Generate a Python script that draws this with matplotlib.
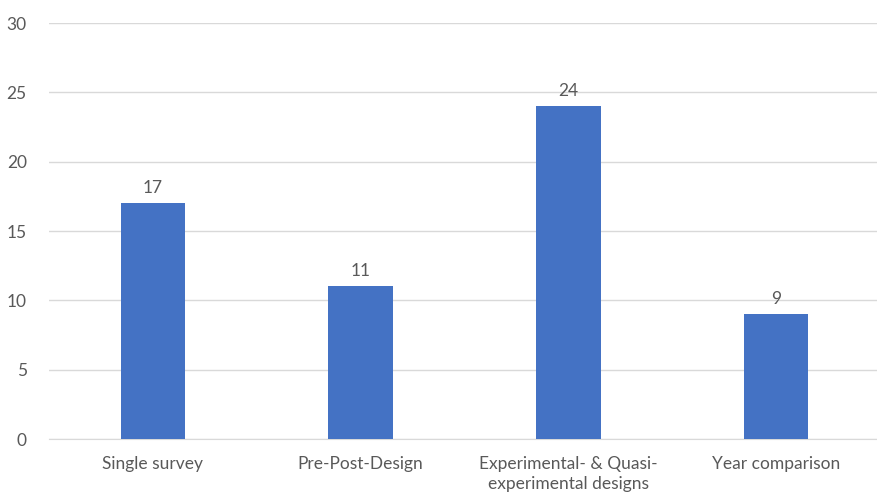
import matplotlib
matplotlib.use("Agg")
import matplotlib.pyplot as plt

categories = ["Single survey", "Pre-Post-Design",
              "Experimental- & Quasi-\nexperimental designs", "Year comparison"]
counts = [17, 11, 24, 9]
y_ticks = [0, 5, 10, 15, 20, 25, 30]

plt.rcParams['font.family'] = ['Lato', 'DejaVu Sans']
text_col = "#595959"

fig = plt.figure(figsize=(8.77, 4.98), dpi=100)
ax = fig.add_axes([49 / 877, 59 / 498, 831 / 877, 416 / 498])

x = list(range(len(categories)))
bars = ax.bar(x, counts, width=0.31, color="#4472C4", zorder=3)
for b, v in zip(bars, counts):
    ax.text(b.get_x() + b.get_width() / 2, v + 0.55, str(v), ha="center", va="bottom",
            fontsize=12.5, color=text_col)

ax.set_xlim(-0.5, len(categories) - 0.5)
ax.set_ylim(0, 30)
ax.set_yticks(y_ticks)
ax.set_xticks(x)
ax.set_xticklabels(categories, fontsize=12.5, color=text_col, linespacing=1.35)
ax.tick_params(axis="y", labelsize=12.5, labelcolor=text_col, length=0, pad=16)
ax.tick_params(axis="x", length=0, pad=12)
ax.yaxis.grid(True, color="#D9D9D9", linewidth=1, zorder=0)
for s in ["top", "right", "left"]:
    ax.spines[s].set_visible(False)
ax.spines["bottom"].set_color("#D9D9D9")

fig.savefig("out.png", dpi=100)
